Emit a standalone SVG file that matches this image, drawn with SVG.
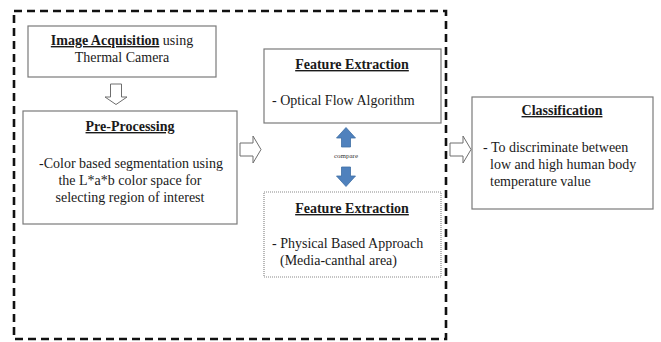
<svg xmlns="http://www.w3.org/2000/svg" width="661" height="342" viewBox="0 0 661 342">
  <style>
    .box { fill: #ffffff; stroke: #7a7a7a; stroke-width: 1.2; }
    .dotbox { fill: #ffffff; stroke: #8a8a8a; stroke-width: 1.2; stroke-dasharray: 1 1; }
    .frame { fill: none; stroke: #111111; stroke-width: 2.6; stroke-dasharray: 8 5; }
    .hollow { fill: #ffffff; stroke: #6e6e6e; stroke-width: 1; stroke-linejoin: miter; }
    .blue { fill: #4f81bd; stroke: #3f6ea5; stroke-width: 0.8; }
    text { font-family: "Liberation Serif", "Times New Roman", serif; font-size: 14px; fill: #1a1a1a; }
    .title { font-weight: bold; text-decoration: underline; }
    .mid { text-anchor: middle; }
    .small { font-size: 7px; fill: #333333; }
  </style>

  <!-- dashed frame around the acquisition / processing / extraction stages -->
  <rect class="frame" x="14" y="11" width="432" height="328"/>

  <g id="image-acquisition">
    <rect class="box" x="28" y="26" width="188" height="51"/>
    <text class="mid" x="122" y="45"><tspan class="title">Image Acquisition</tspan> using</text>
    <text class="mid" x="122" y="62">Thermal Camera</text>
  </g>

  <g id="pre-processing">
    <rect class="box" x="23" y="111" width="214" height="113"/>
    <text class="title mid" x="130" y="131">Pre-Processing</text>
    <text class="mid" x="131" y="168">-Color based segmentation using</text>
    <text class="mid" x="130" y="185">the L*a*b color space for</text>
    <text class="mid" x="130" y="202">selecting region of interest</text>
  </g>

  <g id="feature-extraction-optical">
    <rect class="box" x="264" y="49" width="177" height="74"/>
    <text class="title mid" x="352" y="69">Feature Extraction</text>
    <text x="272" y="105">- Optical Flow Algorithm</text>
  </g>

  <g id="feature-extraction-physical">
    <rect class="dotbox" x="264" y="192" width="177" height="85"/>
    <text class="title mid" x="352" y="213">Feature Extraction</text>
    <text x="272" y="248">- Physical Based Approach</text>
    <text x="280" y="265">(Media-canthal area)</text>
  </g>

  <g id="classification">
    <rect class="box" x="472" y="97" width="181" height="112"/>
    <text class="title mid" x="562" y="115">Classification</text>
    <text x="483" y="152">- To discriminate between</text>
    <text x="490" y="169">low and high human body</text>
    <text x="490" y="186">temperature value</text>
  </g>

  <g id="connectors">
    <!-- hollow block arrows between stages -->
    <path class="hollow" d="M110.5,84 H121.5 V97 H127 L116,104.5 L105,97 H110.5 Z"/>
    <path class="hollow" d="M240,143 H253 V136 L261,149.5 L253,163 V156 H240 Z"/>
    <path class="hollow" d="M450,143 H463 V136 L471,149.5 L463,163 V156 H450 Z"/>
    <!-- compare arrows between the two extraction methods -->
    <path class="blue" d="M341.5,147 V138 H336.5 L346,127.5 L355.5,138 H350.5 V147 Z"/>
    <text class="small mid" x="346" y="158">compare</text>
    <path class="blue" d="M341.5,167 V176 H336.5 L346,186.5 L355.5,176 H350.5 V167 Z"/>
  </g>
</svg>
